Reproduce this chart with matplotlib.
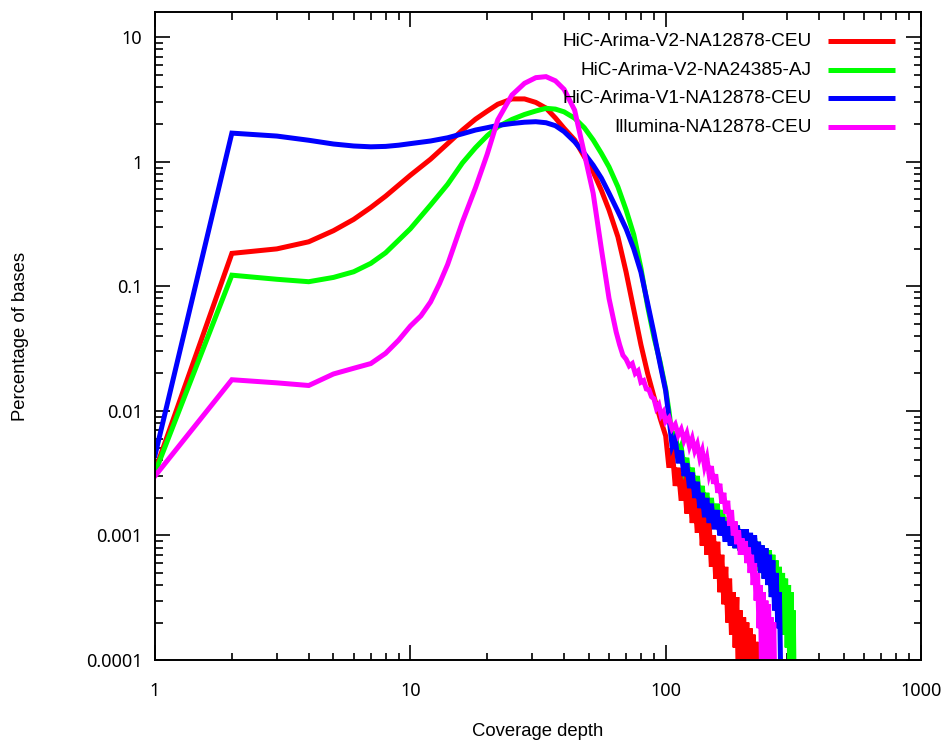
import numpy as np
import matplotlib
matplotlib.use("Agg")
import matplotlib.pyplot as plt
from matplotlib.ticker import LogLocator, FuncFormatter, NullFormatter

# --- data (coverage depth vs % of bases) ---
labels = [
    "HiC-Arima-V2-NA12878-CEU",
    "HiC-Arima-V2-NA24385-AJ",
    "HiC-Arima-V1-NA12878-CEU",
    "Illumina-NA12878-CEU",
]
colors = ["#ff0000", "#00ff00", "#0000ff", "#ff00ff"]

red_x = [1, 2, 3, 4, 5, 6, 7, 8, 9, 10, 12, 14, 16, 18, 20, 22, 25, 28, 31, 34, 37, 40,
         44, 48, 52, 56, 60, 65, 70, 75, 80, 85, 90, 95,
         100, 103, 106, 109, 112, 115, 118, 121, 124, 127, 130, 133, 136, 139, 142, 145,
         148, 151, 154, 157, 160, 163, 166, 169, 172, 175, 178, 181, 184, 187, 190, 193,
         196, 199, 202, 205, 208, 211, 214, 217, 220, 223, 226, 229]
red_y = [0.0033, 0.184, 0.20, 0.228, 0.28, 0.345, 0.43, 0.53, 0.65, 0.78, 1.05, 1.4, 1.8,
         2.2, 2.55, 2.9, 3.2, 3.2, 3.0, 2.7, 2.25, 1.86, 1.5, 1.1, 0.83, 0.59, 0.41, 0.25,
         0.13, 0.065, 0.034, 0.02, 0.013, 0.0088,
         0.0063, 0.0035, 0.0050, 0.0025, 0.0035, 0.0019, 0.0032, 0.0015, 0.0025, 0.00126,
         0.0021, 0.00105, 0.0018, 0.00083, 0.0016, 0.0007, 0.00126, 0.00056, 0.001,
         0.00045, 0.00089, 0.00035, 0.0007, 0.00028, 0.00056, 0.0002, 0.00045, 0.00016,
         0.00035, 0.000126, 0.00032, 0.00005, 0.00025, 0.00005, 0.00022, 0.00011, 0.0002,
         0.00005, 0.00018, 0.00005, 0.00016, 0.00005, 0.00014, 0.00005]

green_x = [1, 2, 3, 4, 5, 6, 7, 8, 9, 10, 12, 14, 16, 18, 20, 22, 25, 28, 31, 34, 37, 40,
           44, 48, 52, 56, 60, 65, 70, 75, 80, 85, 90, 95, 100,
           103, 106, 109, 112, 115, 118, 121, 124, 127, 130, 133, 136, 139, 142, 145, 148,
           151, 155, 159, 163, 167, 171, 175, 179, 183, 187, 191, 195, 199, 203, 207, 211,
           215, 219, 223, 227, 231, 235, 239, 243, 247, 251, 255, 259, 263, 267, 271, 275,
           279, 283, 287, 291, 295, 299, 303, 307, 310, 313, 316, 319]
green_y = [0.0032, 0.123, 0.114, 0.109, 0.118, 0.131, 0.153, 0.186, 0.235, 0.29, 0.45,
           0.66, 0.98, 1.3, 1.62, 1.91, 2.19, 2.4, 2.56, 2.69, 2.65, 2.52, 2.24, 1.88, 1.5,
           1.17, 0.91, 0.63, 0.41, 0.26, 0.14, 0.069, 0.039, 0.025, 0.015,
           0.010, 0.0063, 0.0066, 0.0045, 0.0052, 0.0035, 0.0042, 0.0028, 0.0035, 0.0024,
           0.003, 0.002, 0.0025, 0.00166, 0.0022, 0.0015, 0.002, 0.00126, 0.0018, 0.00112,
           0.0016, 0.001, 0.0014, 0.00089, 0.0013, 0.00079, 0.0012, 0.00076, 0.00112,
           0.0007, 0.00105, 0.00063, 0.001, 0.0006, 0.00095, 0.00052, 0.00089, 0.0005,
           0.00083, 0.00045, 0.00079, 0.00042, 0.00076, 0.00035, 0.0007, 0.00032, 0.00063,
           0.00025, 0.00056, 0.0002, 0.0005, 0.00016, 0.00045, 0.000126, 0.0004, 0.00005,
           0.00035, 0.00005, 0.00025, 0.00005]

blue_x = [1, 2, 3, 4, 5, 6, 7, 8, 9, 10, 12, 14, 16, 18, 20, 22, 25, 28, 31, 34, 37, 40,
          44, 48, 52, 56, 60, 65, 70, 75, 80, 85, 90, 95, 100,
          103, 106, 109, 112, 115, 118, 121, 124, 127, 130, 133, 136, 139, 142, 145, 148,
          151, 155, 159, 163, 167, 171, 175, 179, 183, 187, 191, 195, 199, 203, 207, 211,
          215, 219, 223, 227, 231, 235, 239, 243, 247, 251, 255, 259, 263, 267, 271, 275,
          279, 283]
blue_y = [0.0044, 1.7, 1.61, 1.49, 1.39, 1.34, 1.32, 1.33, 1.36, 1.40, 1.47, 1.56, 1.68,
          1.8, 1.88, 1.96, 2.03, 2.08, 2.1, 2.06, 1.95, 1.75, 1.45, 1.17, 0.94, 0.74, 0.56,
          0.40, 0.29, 0.2, 0.13, 0.073, 0.042, 0.024, 0.0145,
          0.0089, 0.0052, 0.006, 0.0038, 0.0048, 0.003, 0.0038, 0.0024, 0.0032, 0.002,
          0.0027, 0.00166, 0.0022, 0.0014, 0.002, 0.00126, 0.0018, 0.00112, 0.0016, 0.001,
          0.0014, 0.00089, 0.0013, 0.00083, 0.00126, 0.00079, 0.0012, 0.00076, 0.00112,
          0.0007, 0.00112, 0.00066, 0.00105, 0.00063, 0.001, 0.00056, 0.00089, 0.0005,
          0.00083, 0.00045, 0.00079, 0.0004, 0.0007, 0.00032, 0.00063, 0.00025, 0.0005,
          0.00018, 0.00035, 0.00005]

magenta_x = [1, 2, 3, 4, 5, 6, 7, 8, 9, 10, 11, 12, 13, 14, 16, 18, 20, 22, 25, 28, 31, 34,
             37, 40, 44, 48, 52, 56, 60, 64, 66, 68, 70, 72, 74, 76, 78, 80, 82, 84, 86, 88,
             90, 92, 94, 96, 98, 100, 103, 106, 109, 112, 115, 118, 121, 124, 127, 130, 133,
             136, 139, 142, 145, 148, 151, 154, 157, 160, 163, 166, 169, 172, 175, 178, 181,
             184, 187, 190, 193, 196, 199, 202, 205, 208, 211, 214, 217, 220, 223, 226, 229,
             232, 235, 238, 241, 244, 247, 250, 253, 256, 259, 262, 265, 268]
magenta_y = [0.003, 0.0178, 0.0168, 0.016, 0.0198, 0.022, 0.024, 0.029, 0.037, 0.048, 0.058,
             0.075, 0.105, 0.15, 0.33, 0.62, 1.15, 2.17, 3.44, 4.27, 4.74, 4.83, 4.47, 3.82,
             2.6, 1.17, 0.56, 0.2, 0.08, 0.043, 0.034, 0.028, 0.026, 0.023, 0.024, 0.020,
             0.021, 0.017, 0.0175, 0.0150, 0.0148, 0.0130, 0.0125, 0.0105, 0.0112, 0.0092,
             0.0098, 0.0082, 0.0088, 0.0072, 0.0078, 0.0064, 0.0071, 0.0058, 0.0066, 0.0052,
             0.006, 0.0048, 0.0054, 0.0042, 0.0048, 0.0036, 0.0042, 0.0031, 0.0036, 0.0026,
             0.0031, 0.0022, 0.0026, 0.0018, 0.0022, 0.0015, 0.0019, 0.0012, 0.0016, 0.001,
             0.0013, 0.00085, 0.0011, 0.0007, 0.00095, 0.0007, 0.0009, 0.0006, 0.0008,
             0.0005, 0.0007, 0.0004, 0.0006, 0.0003, 0.0005, 0.00018, 0.0004, 0.00005,
             0.00035, 0.00014, 0.0003, 0.00005, 0.00028, 0.00005, 0.00022, 0.00005, 0.0002,
             0.00005]

series = [(red_x, red_y), (green_x, green_y), (blue_x, blue_y), (magenta_x, magenta_y)]

# --- figure ---
fig = plt.figure(figsize=(9.48, 7.49), dpi=100)
ax = fig.add_axes([155 / 948, 1 - 660 / 749, 766 / 948, 648 / 749])

for (xs, ys), c in zip(series, colors):
    ax.plot(xs, ys, color=c, lw=3.6, solid_joinstyle="miter")

ax.set_xscale("log")
ax.set_yscale("log")
ax.set_xlim(1, 1000)
ax.set_ylim(1e-4, 10 ** 1.203)

fmt = FuncFormatter(lambda v, p: "%g" % v)
ax.xaxis.set_major_locator(LogLocator(base=10, numticks=10))
ax.yaxis.set_major_locator(LogLocator(base=10, numticks=10))
ax.xaxis.set_minor_locator(LogLocator(base=10, subs=np.arange(2, 10), numticks=20))
ax.yaxis.set_minor_locator(LogLocator(base=10, subs=np.arange(2, 10), numticks=20))
ax.xaxis.set_major_formatter(fmt)
ax.yaxis.set_major_formatter(fmt)
ax.xaxis.set_minor_formatter(NullFormatter())
ax.yaxis.set_minor_formatter(NullFormatter())

ax.tick_params(which="both", direction="in", top=True, right=True, width=1.2,
               labelsize=13, colors="black")
ax.tick_params(which="major", length=10.8)
ax.tick_params(which="minor", length=5.4)
ax.tick_params(axis="x", which="major", pad=16)
ax.tick_params(axis="y", which="major", pad=9)
for lab in ax.get_xticklabels() + ax.get_yticklabels():
    lab.set_family("Noto Sans")
for sp in ax.spines.values():
    sp.set_linewidth(1.4)

ax.set_xlabel("Coverage depth", family="Liberation Sans", fontsize=13.3)
ax.set_ylabel("Percentage of bases", family="Liberation Sans", fontsize=13.3)
ax.xaxis.set_label_coords(0.5, -0.097)
ax.yaxis.set_label_coords(-0.1645, 0.5)

# gnuplot-style key: right-aligned text, sample line to the right
rows = [0.955, 0.910, 0.867, 0.8225]
for lab, c, yy in zip(labels, colors, rows):
    ax.text(0.8577, yy, lab, transform=ax.transAxes, ha="right", va="center",
            family="Liberation Sans", fontsize=13.7)
    ax.plot([0.8786, 0.966], [yy, yy], transform=ax.transAxes, color=c, lw=3.6,
            solid_capstyle="butt")

fig.savefig("out.png", dpi=100)
